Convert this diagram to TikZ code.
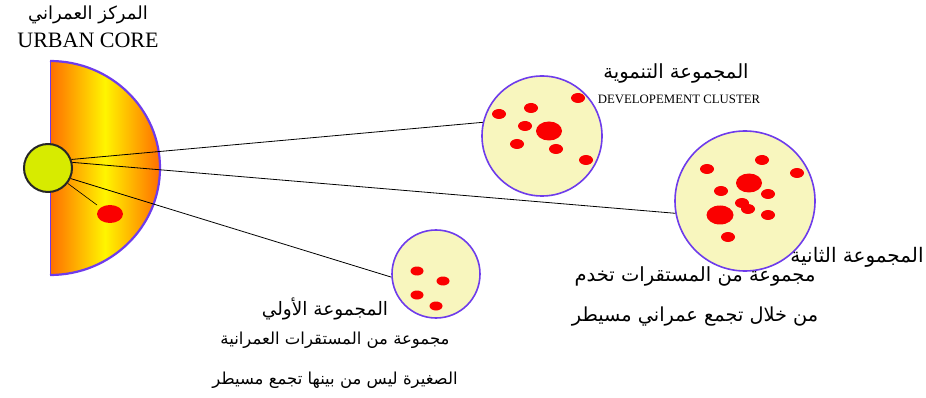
\documentclass[tikz,border=0pt]{standalone}
\usepackage{fontspec}
\setmainfont{Liberation Serif}
\newfontfamily\arabicfont[Script=Arabic]{DejaVu Sans}
\TeXXeTstate=1
\definecolor{rim}{RGB}{110,60,235}
\definecolor{paleyel}{RGB}{248,246,190}
\definecolor{corefill}{RGB}{215,235,0}
\definecolor{deeporange}{RGB}{255,110,0}
\definecolor{brightyel}{RGB}{255,245,0}
\definecolor{dotred}{RGB}{250,0,0}
\begin{document}
\begin{tikzpicture}[x=1pt,y=-1pt,
  cluster/.style={circle, draw=rim, line width=1.6pt, fill=paleyel, inner sep=0pt, minimum size=#1},
  conn/.style={draw=black, line width=0.8pt},
  ar/.style={inner sep=0pt, font=\arabicfont\fontsize{#1}{#1}\selectfont},
  lat/.style={inner sep=0pt},
]
\useasboundingbox (0,0) rectangle (926,398);
% half disc
\shade[left color=deeporange, right color=deeporange, middle color=brightyel]
  (50,275) -- (50,61) arc[start angle=90, end angle=-90, x radius=110pt, y radius=107pt] -- cycle;
\draw[rim, line width=2.2pt] (50,61) arc[start angle=90, end angle=-90, x radius=110pt, y radius=107pt];
\draw[rim, line width=0.8pt] (50,61) -- (50,275);
\fill[dotred] (110,214) ellipse[x radius=13pt, y radius=9pt];
% core
\node[circle, draw=black!85, line width=2pt, fill=corefill, inner sep=0pt, minimum size=48pt] (core) at (48,168) {};
\coordinate (blobend) at (97,205);
% clusters
\node[cluster=120pt] (dev) at (542,136) {};
\node[cluster=140pt] (c2) at (745,201) {};
\node[cluster=88pt] (c1) at (436,274) {};
% connectors
\draw[conn] (core.20) -- (dev.167);
\draw[conn] (core.13) -- (c2.190);
\draw[conn] (core.-25) -- (c1.184);
\draw[conn, line width=0.6pt] (core.-38) -- (blobend);
% dots dev cluster
\foreach \p in {(499,114),(531,108),(578,98),(525,126),(517,144),(556,149),(586,160)}
  \fill[dotred] \p ellipse[x radius=7pt, y radius=5pt];
\fill[dotred] (549,131) ellipse[x radius=13pt, y radius=9.5pt];
% dots cluster 2
\foreach \p in {(707,169),(762,160),(797,173),(721,191),(768,194),(742,203),(748,209),(768,215),(728,237)}
  \fill[dotred] \p ellipse[x radius=7pt, y radius=5pt];
\fill[dotred] (749,183) ellipse[x radius=13pt, y radius=9.5pt];
\fill[dotred] (720,215) ellipse[x radius=13.5pt, y radius=9.5pt];
% dots cluster 1
\foreach \p in {(417,271),(443,281),(417,295),(436,306)}
  \fill[dotred] \p ellipse[x radius=6.5pt, y radius=4.5pt];
% texts
\node[ar=18] (t1) at (88,15) {\beginR المركز العمراني\endR};
\node[lat, font=\fontsize{22}{24}\selectfont] (t2) at (88,40) {URBAN CORE};
\node[ar=19.5] (t3) at (676,73) {\beginR المجموعة التنموية\endR};
\node[lat, font=\fontsize{12.8}{14}\selectfont] (t4) at (679,99) {DEVELOPEMENT CLUSTER};
\node[ar=20] (t5) at (857,257) {\beginR المجموعة الثانية\endR};
\node[ar=19.5] (t6) at (695,276) {\beginR مجموعة من المستقرات تخدم\endR};
\node[ar=19.3] (t7) at (695,317) {\beginR من خلال تجمع عمراني مسيطر\endR};
\node[ar=18.5] (t8) at (325,309) {\beginR المجموعة الأولي\endR};
\node[ar=16.5] (t9) at (335,340) {\beginR مجموعة من المستقرات العمرانية\endR};
\node[ar=16.5] (t10) at (335,380) {\beginR الصغيرة ليس من بينها تجمع مسيطر\endR};
\end{tikzpicture}
\end{document}
